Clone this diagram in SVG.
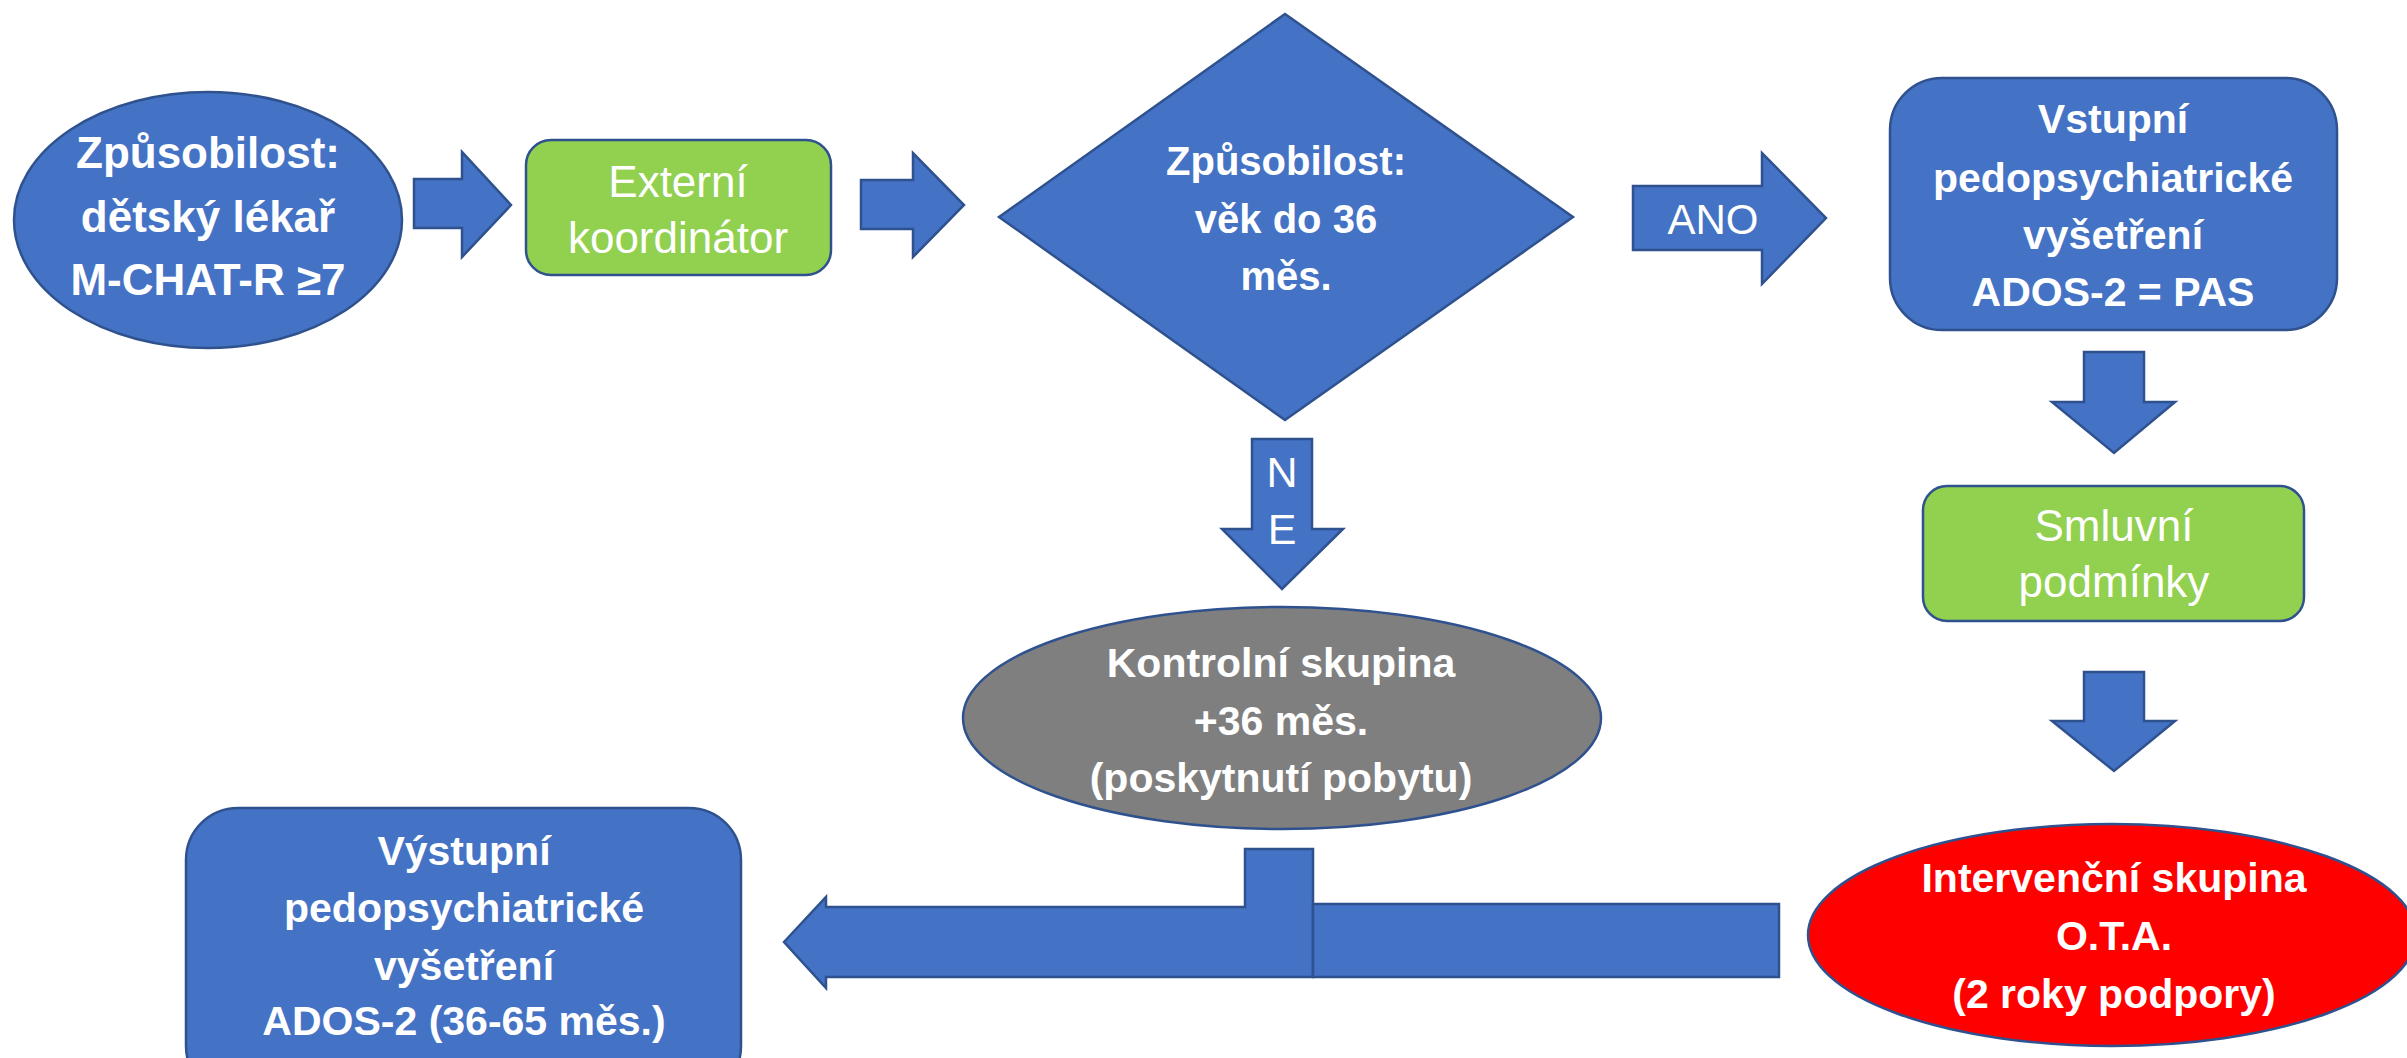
<svg xmlns="http://www.w3.org/2000/svg" width="2407" height="1058" viewBox="0 0 2407 1058">
<style>
.blue{fill:#4472C4;stroke:#2F528F;stroke-width:2.5}
.green{fill:#92D050;stroke:#2F528F;stroke-width:2.5}
.grey{fill:#7F7F7F;stroke:#2F528F;stroke-width:2.5}
.red{fill:#FF0000;stroke:#2F528F;stroke-width:2.5}
.arrow{fill:#4472C4;stroke:#2F528F;stroke-width:2.5;stroke-linejoin:miter}
text{font-family:"Liberation Sans",Arial,sans-serif;fill:#FFFFFF;text-anchor:middle}
.b{font-weight:bold;font-size:41px}
.r{font-size:44px}
</style>
<rect width="2407" height="1058" fill="#FFFFFF"/>
<g id="connectors">
  <polygon class="arrow" points="414,179 462,179 462,152 511,205 462,257 462,228 414,228"/>
  <polygon class="arrow" points="861,180 913,180 913,153 964,205 913,257 913,229 861,229"/>
  <g id="ano">
    <polygon class="arrow" points="1633,186 1762,186 1762,153 1826,218 1762,284 1762,250 1633,250"/>
    <text class="r" x="1713" y="234" style="font-size:42px">ANO</text>
  </g>
  <g id="ne">
    <polygon class="arrow" points="1252,439 1312,439 1312,529 1343,529 1282,589 1222,529 1252,529"/>
    <text class="r" x="1282" y="487" style="font-size:43px">N</text>
    <text class="r" x="1282" y="544" style="font-size:43px">E</text>
  </g>
  <polygon class="arrow" points="2084,352 2144,352 2144,402 2175,402 2114,453 2052,402 2084,402"/>
  <polygon class="arrow" points="2084,672 2144,672 2144,721 2175,721 2114,771 2052,721 2084,721"/>
  <polygon class="arrow" points="784,942 826,897 826,907 1245,907 1245,849 1313,849 1313,977 826,977 826,988"/>
  <rect class="arrow" x="1313" y="904" width="466" height="73"/>
</g>
<g id="n1">
  <ellipse class="blue" cx="208" cy="220" rx="194" ry="128"/>
  <text class="b" x="208" y="168" style="font-size:44px">Způsobilost:</text>
  <text class="b" x="208" y="232" style="font-size:44px">dětský lékař</text>
  <text class="b" x="208" y="295" style="font-size:44px">M-CHAT-R ≥7</text>
</g>
<g id="n2">
  <rect class="green" x="526" y="140" width="305" height="135" rx="25"/>
  <text class="r" x="678" y="197">Externí</text>
  <text class="r" x="678" y="253">koordinátor</text>
</g>
<g id="n3">
  <polygon class="blue" points="1285,14 1573,217 1285,420 999,217"/>
  <text class="b" x="1286" y="175" style="font-size:40px">Způsobilost:</text>
  <text class="b" x="1286" y="233" style="font-size:40px">věk do 36</text>
  <text class="b" x="1286" y="290" style="font-size:40px">měs.</text>
</g>
<g id="n4">
  <rect class="blue" x="1890" y="78" width="447" height="252" rx="52"/>
  <text class="b" x="2113" y="133">Vstupní</text>
  <text class="b" x="2113" y="192">pedopsychiatrické</text>
  <text class="b" x="2113" y="249">vyšetření</text>
  <text class="b" x="2113" y="306">ADOS-2 = PAS</text>
</g>
<g id="n5">
  <rect class="green" x="1923" y="486" width="381" height="135" rx="24"/>
  <text class="r" x="2114" y="541">Smluvní</text>
  <text class="r" x="2114" y="597">podmínky</text>
</g>
<g id="n6">
  <ellipse class="grey" cx="1282" cy="718" rx="319" ry="111"/>
  <text class="b" x="1281" y="677">Kontrolní skupina</text>
  <text class="b" x="1281" y="735">+36 měs.</text>
  <text class="b" x="1281" y="792">(poskytnutí pobytu)</text>
</g>
<g id="n7">
  <ellipse class="red" cx="2112" cy="935" rx="304" ry="111"/>
  <text class="b" x="2114" y="892">Intervenční skupina</text>
  <text class="b" x="2114" y="950">O.T.A.</text>
  <text class="b" x="2114" y="1008">(2 roky podpory)</text>
</g>
<g id="n8">
  <rect class="blue" x="186" y="808" width="555" height="290" rx="52"/>
  <text class="b" x="464" y="865">Výstupní</text>
  <text class="b" x="464" y="922">pedopsychiatrické</text>
  <text class="b" x="464" y="980">vyšetření</text>
  <text class="b" x="464" y="1035">ADOS-2 (36-65 měs.)</text>
</g>
</svg>
